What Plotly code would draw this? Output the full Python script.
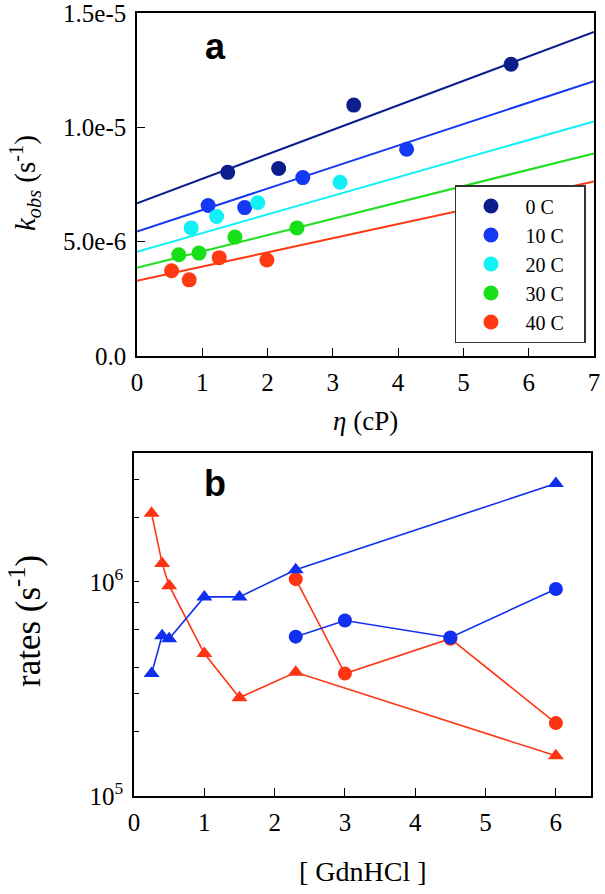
import plotly.graph_objects as go

# panel a : kobs vs viscosity at five temperatures
temps = ["0 C", "10 C", "20 C", "30 C", "40 C"]
colors_a = ["#0b1e8c", "#1538f2", "#10f0f5", "#18e018", "#ff3a12"]

eta_0 = [1.39, 2.17, 3.32, 5.73]
k_0 = [8.03e-6, 8.2e-6, 1.097e-5, 1.276e-5]
eta_10 = [1.09, 1.65, 2.54, 4.13]
k_10 = [6.58e-6, 6.49e-6, 7.8e-6, 9.04e-6]
eta_20 = [0.83, 1.22, 1.85, 3.11]
k_20 = [5.6e-6, 6.1e-6, 6.7e-6, 7.6e-6]
eta_30 = [0.64, 0.95, 1.5, 2.45]
k_30 = [4.43e-6, 4.5e-6, 5.2e-6, 5.6e-6]
eta_40 = [0.53, 0.8, 1.26, 1.99]
k_40 = [3.73e-6, 3.33e-6, 4.3e-6, 4.2e-6]

# fitted lines, value at eta = 0 and eta = 7
fit_eta = [0, 7]
fit_0 = [6.68e-6, 1.417e-5]
fit_10 = [5.44e-6, 1.202e-5]
fit_20 = [4.56e-6, 1.026e-5]
fit_30 = [3.86e-6, 8.86e-6]
fit_40 = [3.29e-6, 7.63e-6]

# panel b : rates vs [GdnHCl]
gdn_red_tri = [0.25, 0.4, 0.5, 1.0, 1.5, 2.3, 6.0]
rate_red_tri = [2.09e6, 1.22e6, 9.6e5, 4.63e5, 2.88e5, 3.78e5, 1.54e5]
gdn_red_circ = [2.3, 3.0, 4.5, 6.0]
rate_red_circ = [1.03e6, 3.73e5, 5.43e5, 2.19e5]
gdn_blue_tri = [0.25, 0.4, 0.5, 1.0, 1.5, 2.3, 6.0]
rate_blue_tri = [3.73e5, 5.61e5, 5.43e5, 8.51e5, 8.51e5, 1.14e6, 2.88e6]
gdn_blue_circ = [2.3, 3.0, 4.5, 6.0]
rate_blue_circ = [5.55e5, 6.6e5, 5.5e5, 9.27e5]

ticks_a_y = [0, 5e-6, 1e-5, 1.5e-5]
ticks_a_ytext = ["0.0", "5.0e-6", "1.0e-5", "1.5e-5"]
ticks_b_y = [1e5, 1e6]
ticks_b_ytext = ["10<sup>5</sup>", "10<sup>6</sup>"]
minor_b_y = [2e5, 3e5, 4e5, 6e5, 8e5, 2e6, 3e6, 4e6]

BLUE = "#1030f0"
RED = "#ff3412"
SERIF = '"Liberation Serif", "Times New Roman", Times, serif'
SANS = '"Liberation Sans", Arial, sans-serif'

fig = go.Figure()

pts = [(eta_0, k_0, fit_0), (eta_10, k_10, fit_10), (eta_20, k_20, fit_20),
       (eta_30, k_30, fit_30), (eta_40, k_40, fit_40)]
for (ex, ky, fit), name, c in zip(pts, temps, colors_a):
    fig.add_trace(go.Scatter(
        x=fit_eta, y=fit, mode="lines", line=dict(color=c, width=2),
        showlegend=False, xaxis="x", yaxis="y"))
    fig.add_trace(go.Scatter(
        x=ex, y=ky, mode="markers", name=name + "&nbsp;&nbsp;&nbsp;",
        marker=dict(color=c, size=15, symbol="circle"),
        xaxis="x", yaxis="y"))

series_b = [
    (gdn_red_tri, rate_red_tri, RED, "triangle-up"),
    (gdn_red_circ, rate_red_circ, RED, "circle"),
    (gdn_blue_tri, rate_blue_tri, BLUE, "triangle-up"),
    (gdn_blue_circ, rate_blue_circ, BLUE, "circle"),
]
for gx, ry, c, sym in series_b:
    fig.add_trace(go.Scatter(
        x=gx, y=ry, mode="lines+markers", showlegend=False,
        line=dict(color=c, width=1.6),
        marker=dict(color=c, size=14, symbol=sym),
        xaxis="x2", yaxis="y2"))

axis_style = dict(showline=True, linecolor="black", linewidth=1.5, mirror=True,
                  ticks="inside", tickcolor="black", showgrid=False, zeroline=False,
                  automargin=False, ticklabeloverflow="allow",
                  tickfont=dict(family=SERIF, size=25, color="black"))


def label(text, px, py, size, family=SERIF, angle=0):
    return dict(text=text, x=px / 605, y=1 - py / 894, xref="paper", yref="paper",
                xanchor="center", yanchor="middle", showarrow=False, textangle=angle,
                font=dict(family=family, size=size, color="black"))


fig.update_layout(
    width=605, height=894,
    margin=dict(l=0, r=0, t=0, b=0),
    paper_bgcolor="white", plot_bgcolor="white",
    font=dict(family=SERIF, color="black"),
    xaxis=dict(domain=[0.2264, 0.9818], anchor="y", range=[0, 7], dtick=1,
               ticklen=8, ticklabelstandoff=3, **axis_style),
    yaxis=dict(domain=[0.6018, 0.9855], anchor="x", range=[0, 1.5e-5],
               tickvals=ticks_a_y, ticktext=ticks_a_ytext, ticklen=8,
               ticklabelstandoff=4, **axis_style),
    xaxis2=dict(domain=[0.2215, 0.9769], anchor="y2", range=[0, 6.5], dtick=1,
                ticklen=8, ticklabelstandoff=3, **axis_style),
    yaxis2=dict(domain=[0.1096, 0.4933], anchor="x2", type="log",
                range=[5, 6.602], tickvals=ticks_b_y, ticktext=ticks_b_ytext,
                ticklen=5, ticklabelstandoff=4,
                minor=dict(tickvals=minor_b_y, ticks="inside", ticklen=5,
                           tickcolor="black", showgrid=False),
                **axis_style),
    legend=dict(x=0.752, y=0.793, xanchor="left", yanchor="top",
                bordercolor="#333", borderwidth=1.5, bgcolor="white",
                font=dict(family=SERIF, size=20, color="black"),
                tracegroupgap=0, itemwidth=59),
    annotations=[
        label("<b>a</b>", 215, 46, 36, SANS),
        label("<b>b</b>", 215, 484, 36, SANS),
        label("<i>η</i> (cP)", 365, 421, 27),
        label("[ GdnHCl ]", 363, 871, 28),
        label("<i>k<sub>obs</sub></i> (s<sup>-1</sup>)", 25, 183, 29, angle=-90),
        label("rates (s<sup>-1</sup>)", 25, 621, 35, angle=-90),
    ],
)

fig.write_html("out.html", config={"displayModeBar": False},
               post_script="document.body.style.margin='0px';")
